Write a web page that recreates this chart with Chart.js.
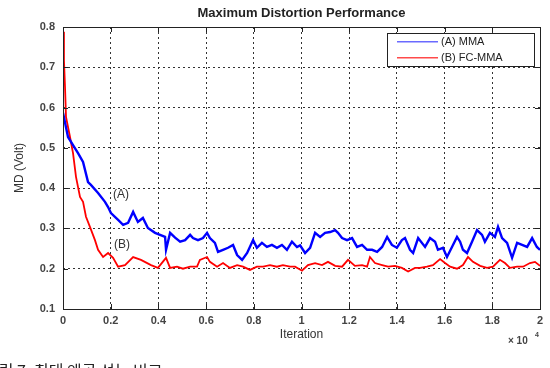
<!DOCTYPE html>
<html>
<head>
<meta charset="utf-8">
<script src="https://cdn.jsdelivr.net/npm/chart.js@4/dist/chart.umd.min.js"></script>
<style>
html,body{margin:0;padding:0;background:#fff;overflow:hidden;}
#wrap{width:550px;height:368px;position:relative;}
</style>
</head>
<body>
<div id="wrap"><canvas id="c" width="550" height="368"></canvas></div>
<script>
// ---- Data ----
const chartTitle = "Maximum Distortion Performance";
const xAxisTitle = "Iteration";
const yAxisTitle = "MD (Volt)";
const seriesNames = ["(A) MMA", "(B) FC-MMA"];
const xTickValues = [0,2000,4000,6000,8000,10000,12000,14000,16000,18000,20000];
const yTickValues = [0.1,0.2,0.3,0.4,0.5,0.6,0.7,0.8];

const blueIter = [0,210,420,630,840,1050,1170,1470,1760,1890,2010,2310,2520,2730,2940,3140,3350,3560,3860,4280,4320,
  4490,4700,4910,5120,5330,5450,5660,5870,6040,6160,6370,6500,6710,6920,7130,7300,7510,7720,7970,8130,8340,8550,8760,8970,9180,9390,9600,9810,
  9940,10150,10360,10570,10780,10990,11200,11410,11530,11700,11910,12120,12330,12540,12750,12960,13170,13380,13590,13790,14000,14210,14340,14550,14680,14890,
  15180,15390,15600,15720,15930,16100,16310,16520,16650,16770,16940,17150,17360,17570,17690,17900,18110,18240,18410,18620,18830,19040,19250,19460,19670,19870,20000];
const blueMD = [0.587,0.527,0.507,0.487,0.465,0.415,0.408,0.388,0.366,0.353,0.338,0.321,0.309,0.314,0.341,0.316,0.326,0.301,0.289,0.279,0.247,
  0.289,0.277,0.267,0.271,0.284,0.276,0.271,0.276,0.289,0.276,0.264,0.242,0.247,0.252,0.259,0.234,0.222,0.239,0.271,0.252,0.264,0.254,0.259,0.252,0.259,0.247,0.267,0.254,
  0.258,0.239,0.252,0.289,0.279,0.289,0.291,0.296,0.289,0.276,0.271,0.276,0.254,0.259,0.247,0.247,0.242,0.254,0.279,0.259,0.252,0.271,0.276,0.247,0.239,0.276,
  0.254,0.276,0.267,0.247,0.252,0.229,0.254,0.279,0.267,0.247,0.239,0.267,0.296,0.284,0.267,0.289,0.279,0.304,0.276,0.264,0.227,0.264,0.259,0.254,0.276,0.254,0.247];

const redIter = [0,40,84,126,294,420,545,713,840,964,1130,1340,1470,1680,1890,2100,2310,2600,2940,3270,3690,3980,4320,
  4490,4780,5030,5330,5620,5740,6040,6160,6460,6710,7000,7300,7550,7840,8130,8390,8680,8970,9220,9520,
  9730,10020,10270,10570,10860,11110,11410,11700,11950,12240,12540,12750,12870,13080,13380,13630,13920,14210,14470,14760,
  14970,15260,15510,15810,16020,16230,16520,16770,16980,17190,17490,17780,18030,18320,18530,18740,19040,19290,19580,19790,20000];
const redMD = [0.788,0.718,0.651,0.577,0.527,0.487,0.428,0.378,0.366,0.329,0.304,0.271,0.247,0.229,0.239,0.227,0.205,0.209,0.229,0.222,0.209,0.202,0.227,
  0.202,0.205,0.200,0.205,0.205,0.222,0.229,0.217,0.205,0.214,0.202,0.209,0.205,0.197,0.205,0.205,0.209,0.205,0.209,0.205,
  0.205,0.195,0.209,0.214,0.209,0.217,0.207,0.205,0.222,0.207,0.209,0.205,0.229,0.214,0.209,0.205,0.207,0.202,0.193,0.202,
  0.202,0.205,0.209,0.224,0.214,0.205,0.200,0.209,0.229,0.217,0.207,0.202,0.205,0.222,0.214,0.202,0.205,0.205,0.214,0.217,0.207];

const annotations = [{text:"(A)", x:2430, y:0.383}, {text:"(B)", x:2470, y:0.259}];
const captionText = "그림 7. 최대 왜곡 성능 비교";

// ---- Build chart ----
const FONT = "'Liberation Sans', Arial, sans-serif";
const toPts = (xs, ys) => xs.map((x, i) => ({x: x, y: ys[i]}));

const decor = {
  id: 'decor',
  afterDraw(chart) {
    const ctx = chart.ctx;
    const a = chart.chartArea;
    const xs = chart.scales.x, ys = chart.scales.y;
    ctx.save();
    // axes box
    ctx.strokeStyle = '#222';
    ctx.lineWidth = 1;
    ctx.setLineDash([]);
    ctx.strokeRect(Math.round(a.left) + 0.5, Math.round(a.top) + 0.5, Math.round(a.right - a.left), Math.round(a.bottom - a.top));
    // inward ticks
    ctx.beginPath();
    xTickValues.forEach(v => {
      const px = Math.round(xs.getPixelForValue(v)) + 0.5;
      ctx.moveTo(px, a.bottom); ctx.lineTo(px, a.bottom - 5);
      ctx.moveTo(px, a.top); ctx.lineTo(px, a.top + 5);
    });
    yTickValues.forEach(v => {
      const py = Math.round(ys.getPixelForValue(v)) + 0.5;
      ctx.moveTo(a.left, py); ctx.lineTo(a.left + 5, py);
      ctx.moveTo(a.right, py); ctx.lineTo(a.right - 5, py);
    });
    ctx.stroke();

    // title
    ctx.fillStyle = '#222';
    ctx.textAlign = 'center';
    ctx.textBaseline = 'middle';
    ctx.font = 'bold 13px ' + FONT;
    ctx.fillText(chartTitle, (a.left + a.right) / 2, 13);
    // x title
    ctx.font = '12px ' + FONT;
    ctx.fillStyle = '#333';
    ctx.fillText(xAxisTitle, (a.left + a.right) / 2, 335);
    // exponent
    ctx.font = 'bold 10px ' + FONT;
    ctx.fillStyle = '#444';
    ctx.textAlign = 'left';
    ctx.fillText('\u00d7 10', 508, 341);
    ctx.font = 'bold 7px ' + FONT;
    ctx.fillText('4', 535, 335);
    // y title
    ctx.save();
    ctx.translate(20, (a.top + a.bottom) / 2);
    ctx.rotate(-Math.PI / 2);
    ctx.textAlign = 'center';
    ctx.font = '12px ' + FONT;
    ctx.fillStyle = '#333';
    ctx.fillText(yAxisTitle, 0, 0);
    ctx.restore();

    // annotations
    ctx.font = '12px ' + FONT;
    ctx.fillStyle = '#333';
    ctx.textAlign = 'center';
    annotations.forEach(an => {
      ctx.fillText(an.text, xs.getPixelForValue(an.x), ys.getPixelForValue(an.y));
    });

    // legend
    const lx = 387.5, ly = 33.5, lw = 147, lh = 33;
    ctx.fillStyle = '#fff';
    ctx.fillRect(lx, ly, lw, lh);
    ctx.strokeStyle = '#222';
    ctx.lineWidth = 1;
    ctx.strokeRect(lx, ly, lw, lh);
    const colors = ['#6a6aff', '#ff4a4a'];
    const rows = [41, 57];
    ctx.font = '11px ' + FONT;
    ctx.textAlign = 'left';
    seriesNames.forEach((n, i) => {
      ctx.fillStyle = colors[i];
      ctx.fillRect(397, rows[i], 41, 1.5);
      ctx.fillStyle = '#222';
      ctx.fillText(n, 441, rows[i] + 1);
    });

    // caption (cut off at bottom)
    ctx.font = '16px "Noto Sans CJK KR", sans-serif';
    ctx.fillStyle = '#222';
    ctx.textAlign = 'left';
    ctx.textBaseline = 'alphabetic';
    ctx.fillText(captionText, -16, 377);
    ctx.restore();
  }
};

new Chart(document.getElementById('c'), {
  type: 'line',
  data: {
    datasets: [
      {label: seriesNames[0], data: toPts(blueIter, blueMD), borderColor: '#0000ff', borderWidth: 2.4, pointRadius: 0, tension: 0, fill: false},
      {label: seriesNames[1], data: toPts(redIter, redMD), borderColor: '#ff0000', borderWidth: 1.8, pointRadius: 0, tension: 0, fill: false}
    ]
  },
  options: {
    responsive: false,
    animation: false,
    devicePixelRatio: 1,
    layout: {padding: {left: 0, right: 10, top: 27, bottom: 0}},
    plugins: {legend: {display: false}, tooltip: {enabled: false}, title: {display: false}},
    scales: {
      x: {
        type: 'linear', min: 0, max: 20000,
        afterFit: s => { s.height = 59; },
        afterBuildTicks: s => { s.ticks = xTickValues.map(v => ({value: v})); },
        ticks: {
          color: '#444', font: {family: FONT, size: 11, weight: 'bold'}, padding: 5, maxRotation: 0,
          callback: v => String(Number((v / 10000).toFixed(1)))
        },
        grid: {color: '#333', lineWidth: 1, drawTicks: false},
        border: {display: false, dash: [2, 3]}
      },
      y: {
        type: 'linear', min: 0.1, max: 0.8,
        afterFit: s => { s.width = 63; },
        afterBuildTicks: s => { s.ticks = yTickValues.map(v => ({value: v})); },
        ticks: {
          color: '#444', font: {family: FONT, size: 11, weight: 'bold'}, padding: 8,
          callback: v => v.toFixed(1)
        },
        grid: {color: '#333', lineWidth: 1, drawTicks: false},
        border: {display: false, dash: [2, 3]}
      }
    }
  },
  plugins: [decor]
});
</script>
</body>
</html>
